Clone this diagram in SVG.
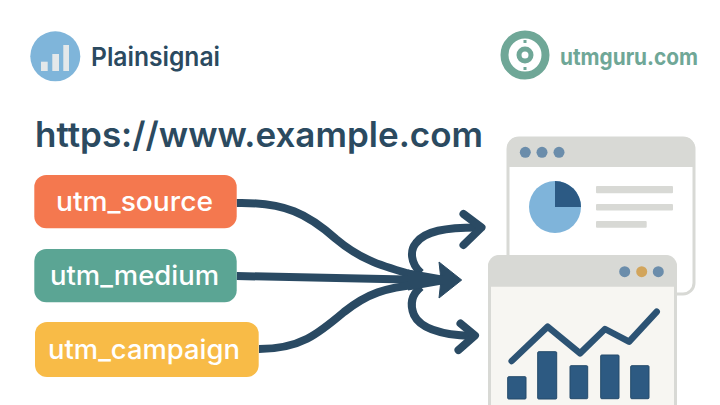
<svg xmlns="http://www.w3.org/2000/svg" width="720" height="405" viewBox="0 0 720 405">
<style>
text{font-family:Inter,"Noto Sans",sans-serif}
.lbl{fill:#fff;font-size:27px;font-weight:500}
.c{fill:none;stroke:#2a4a63;stroke-width:8;stroke-linecap:butt;stroke-linejoin:round}
.h{fill:none;stroke:#2a4a63;stroke-width:8;stroke-linecap:round;stroke-linejoin:round}
.win{stroke:#d8d9d5;stroke-width:3}
.bar{fill:#d8d9d5}
.b{fill:#2d5a82;stroke:#244a6b;stroke-width:1}
</style>
<rect width="720" height="405" fill="#fff"/>
<g id="logo-plainsignal">
<circle cx="55.3" cy="56.3" r="25" fill="#7fb5da"/>
<rect x="41" y="61.7" width="6.7" height="9.3" fill="#e3e8ea"/>
<rect x="52.3" y="54" width="6.7" height="17" fill="#e3e8ea"/>
<rect x="63.3" y="45" width="5.7" height="26" fill="#e3e8ea"/>
<text x="91" y="66" font-size="26" font-weight="600" fill="#2b4a60" textLength="129" lengthAdjust="spacingAndGlyphs">Plainsignai</text>
</g>
<g id="logo-utmguru">
<circle cx="525" cy="55" r="20.5" fill="none" stroke="#6fa797" stroke-width="8"/>
<circle cx="525" cy="55" r="6" fill="none" stroke="#6fa797" stroke-width="5"/>
<rect x="523.5" y="40" width="3" height="3" fill="#6fa797"/>
<rect x="523.5" y="67" width="3" height="3" fill="#6fa797"/>
<text x="560" y="65" font-size="22.5" font-weight="700" fill="#6fa797" textLength="138" lengthAdjust="spacingAndGlyphs">utmguru.com</text>
</g>
<text id="url" x="35" y="147" font-size="35" font-weight="600" fill="#2b4a60" textLength="448" lengthAdjust="spacingAndGlyphs">https://www.example.com</text>
<g id="window-pie">
<rect x="508" y="138" width="186" height="156" rx="11" fill="#fff" class="win"/>
<path d="M507 167V148a11 11 0 0 1 11-11H684a11 11 0 0 1 11 11V167Z" fill="#d8d9d5"/>
<circle cx="525.3" cy="152.3" r="5.500" fill="#6b8dab"/>
<circle cx="542" cy="152.3" r="5.500" fill="#6b8dab"/>
<circle cx="559" cy="152.3" r="5.500" fill="#6b8dab"/>
<circle cx="555" cy="207" r="26" fill="#7fb4da"/>
<path d="M555 207V181A26 26 0 0 1 581 207Z" fill="#2c5a84"/>
<rect x="596" y="186" width="77" height="7.3" rx="1" class="bar"/>
<rect x="596" y="204" width="77" height="6.4" rx="1" class="bar"/>
<rect x="596" y="221" width="50.7" height="6.7" rx="1" class="bar"/>
</g>
<g id="window-chart">
<rect x="489.500" y="256.500" width="186" height="160" rx="11" fill="#f7f6f2" class="win"/>
<path d="M488 286.7V266a11 11 0 0 1 11-11H666a11 11 0 0 1 11 11V286.7Z" fill="#d8d9d5"/>
<circle cx="624.7" cy="271.7" r="5.500" fill="#6b8dab"/>
<circle cx="641.7" cy="271.7" r="5.500" fill="#d2a55c"/>
<circle cx="658.3" cy="271.7" r="5.500" fill="#6b8dab"/>
<path d="M511.7 361L547.7 326.7L580 353.3L605 329L629 341.7L656.7 311.7" fill="none" stroke="#2c5374" stroke-width="6.500" stroke-linecap="round" stroke-linejoin="round"/>
<rect x="507.7" y="376.7" width="18.3" height="22.3" rx="1" class="b"/>
<rect x="537.7" y="351.7" width="19" height="47.3" rx="1" class="b"/>
<rect x="570" y="365.7" width="17.7" height="33" rx="1" class="b"/>
<rect x="600.7" y="355" width="18.3" height="43.7" rx="1" class="b"/>
<rect x="630.7" y="365.7" width="18.3" height="33" rx="1" class="b"/>
</g>
<g id="connectors">
<path class="c" d="M236.7 203C285 202 308 214 336 239C362 261 385 267 420 277"/>
<path class="c" d="M236.7 276L430 280"/>
<path class="c" d="M259 349C300 349 318 334 344 312C368 293 385 288 420 284"/>
<path class="c" d="M421 273C410 263 410 250 416 243C425 231 445 227.500 478 227.500"/>
<path class="h" d="M463.500 214L481.500 227.500L463.500 245"/>
<path class="c" d="M421 287C411 295 410 305 414 315C421 330 445 335 472 336"/>
<path class="h" d="M460.500 323.500L475 335.500L458.500 350"/>
<path d="M439 262L461.700 280L439 298L441 280Z" fill="#2a4a63" stroke="#2a4a63" stroke-width="1" stroke-linejoin="round"/>
<path d="M408 269.500L445 276V284L408 290.500Z" fill="#2a4a63"/>
</g>
<g id="node-source">
<rect x="34.300" y="175" width="202.400" height="53.300" rx="12" fill="#f4784f"/>
<text class="lbl" x="56" y="211" textLength="157" lengthAdjust="spacingAndGlyphs">utm_source</text>
</g>
<g id="node-medium">
<rect x="34.300" y="249" width="202.400" height="53.300" rx="12" fill="#5ba594"/>
<text class="lbl" x="50" y="285" textLength="169" lengthAdjust="spacingAndGlyphs">utm_medium</text>
</g>
<g id="node-campaign">
<rect x="35" y="322" width="223.700" height="55" rx="12" fill="#f8bb47"/>
<text class="lbl" x="48" y="359" textLength="192" lengthAdjust="spacingAndGlyphs">utm_campaign</text>
</g>
</svg>
